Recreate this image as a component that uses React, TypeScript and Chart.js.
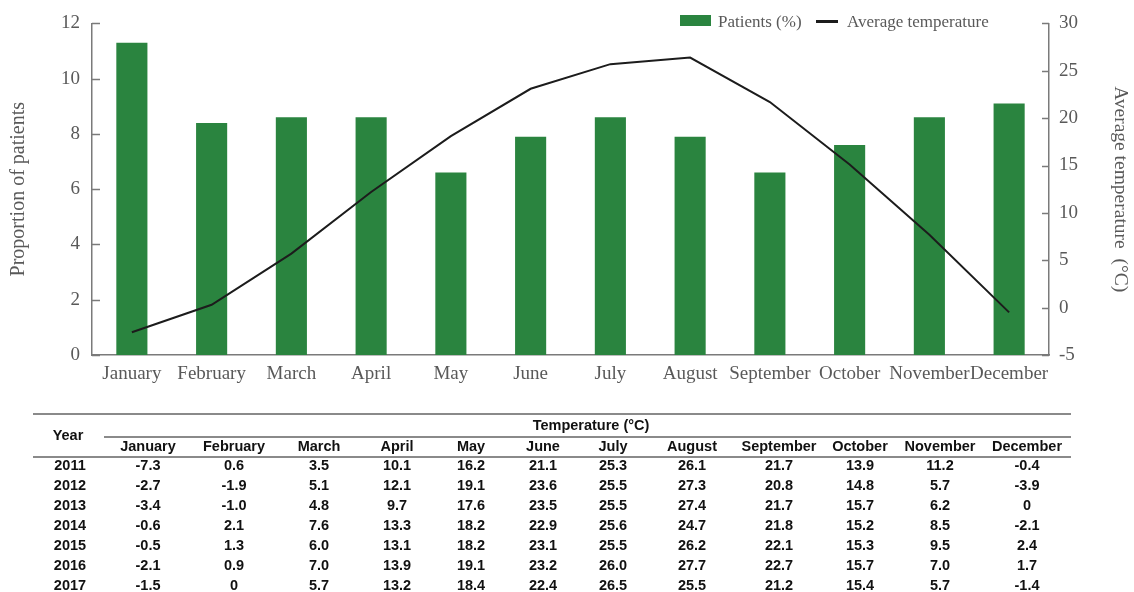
import React, { useEffect, useRef } from 'react';
import { Chart, registerables } from 'chart.js';

Chart.register(...registerables);

const months = ['January', 'February', 'March', 'April', 'May', 'June', 'July', 'August', 'September', 'October', 'November', 'December'];
const patientsPct = [11.3, 8.4, 8.6, 8.6, 6.6, 7.9, 8.6, 7.9, 6.6, 7.6, 8.6, 9.1];
const avgTemp = [-2.6, 0.3, 5.7, 12.2, 18.1, 23.1, 25.7, 26.4, 21.7, 15.1, 7.7, -0.5];

const tableYears = ['2011', '2012', '2013', '2014', '2015', '2016', '2017'];
const temp2011 = ['-7.3', '0.6', '3.5', '10.1', '16.2', '21.1', '25.3', '26.1', '21.7', '13.9', '11.2', '-0.4'];
const temp2012 = ['-2.7', '-1.9', '5.1', '12.1', '19.1', '23.6', '25.5', '27.3', '20.8', '14.8', '5.7', '-3.9'];
const temp2013 = ['-3.4', '-1.0', '4.8', '9.7', '17.6', '23.5', '25.5', '27.4', '21.7', '15.7', '6.2', '0'];
const temp2014 = ['-0.6', '2.1', '7.6', '13.3', '18.2', '22.9', '25.6', '24.7', '21.8', '15.2', '8.5', '-2.1'];
const temp2015 = ['-0.5', '1.3', '6.0', '13.1', '18.2', '23.1', '25.5', '26.2', '22.1', '15.3', '9.5', '2.4'];
const temp2016 = ['-2.1', '0.9', '7.0', '13.9', '19.1', '23.2', '26.0', '27.7', '22.7', '15.7', '7.0', '1.7'];
const temp2017 = ['-1.5', '0', '5.7', '13.2', '18.4', '22.4', '26.5', '25.5', '21.2', '15.4', '5.7', '-1.4'];
const tableRows = [temp2011, temp2012, temp2013, temp2014, temp2015, temp2016, temp2017];

const GREEN = '#2a843f';
const TEXT = '#595959';
const AXIS = '#7a7a7a';
const SERIF = "'Liberation Serif', 'Times New Roman', serif";
const SANS = "'Liberation Sans', Arial, sans-serif";

const colCenters = [148, 234, 319, 397, 471, 543, 613, 692, 779, 860, 940, 1027];
const rowCenters = [465, 485, 505, 525, 545, 565, 585];

const inwardTicks = {
  id: 'inwardTicks',
  afterDatasetsDraw(chart: any) {
    const ctx = chart.ctx;
    const y = chart.scales.y;
    const y1 = chart.scales.y1;
    ctx.save();
    ctx.strokeStyle = AXIS;
    ctx.lineWidth = 1.5;
    y.ticks.forEach((_: any, i: number) => {
      const py = Math.round(y.getPixelForTick(i)) + 0.5;
      ctx.beginPath();
      ctx.moveTo(y.right, py);
      ctx.lineTo(y.right + 8, py);
      ctx.stroke();
    });
    y1.ticks.forEach((_: any, i: number) => {
      const py = Math.round(y1.getPixelForTick(i)) + 0.5;
      ctx.beginPath();
      ctx.moveTo(y1.left - 7, py);
      ctx.lineTo(y1.left, py);
      ctx.stroke();
    });
    ctx.restore();
  },
};

function Cell(props: { cx: number; cy: number; text: string; w?: number }) {
  const w = props.w || 110;
  return (
    <div
      style={{
        position: 'absolute',
        left: props.cx - w / 2,
        top: props.cy - 9,
        width: w,
        height: 18,
        lineHeight: '18px',
        textAlign: 'center',
        whiteSpace: 'nowrap',
      }}
    >
      {props.text}
    </div>
  );
}

function HLine(props: { x1: number; x2: number; y: number }) {
  return (
    <div
      style={{
        position: 'absolute',
        left: props.x1,
        top: props.y - 1,
        width: props.x2 - props.x1,
        height: 2,
        background: '#8a8a8a',
      }}
    />
  );
}

export default function App() {
  const canvasRef = useRef<HTMLCanvasElement | null>(null);

  useEffect(() => {
    if (!canvasRef.current) return;
    const chart = new Chart(canvasRef.current, {
      type: 'bar',
      data: {
        labels: months,
        datasets: [
          {
            type: 'line',
            label: 'Average temperature',
            data: avgTemp,
            yAxisID: 'y1',
            borderColor: '#1c1c1c',
            borderWidth: 2,
            pointRadius: 0,
            tension: 0,
            order: 1,
          } as any,
          {
            type: 'bar',
            label: 'Patients (%)',
            data: patientsPct,
            yAxisID: 'y',
            backgroundColor: GREEN,
            barPercentage: 0.39,
            categoryPercentage: 1,
            order: 2,
          } as any,
        ],
      },
      options: {
        animation: false,
        responsive: false,
        devicePixelRatio: 1,
        layout: { padding: { top: 21, left: 0, right: 0, bottom: 0 } },
        plugins: {
          legend: { display: false },
          tooltip: { enabled: false },
        },
        scales: {
          x: {
            grid: { display: false, drawTicks: false },
            border: { display: true, color: AXIS, width: 1.5 },
            ticks: {
              color: TEXT,
              font: { family: SERIF, size: 19 },
              padding: 8,
              maxRotation: 0,
              autoSkip: false,
            },
            afterFit: (s: any) => {
              s.height = 40;
            },
          },
          y: {
            position: 'left',
            min: 0,
            max: 12,
            ticks: {
              stepSize: 2,
              color: TEXT,
              font: { family: SERIF, size: 19 },
              padding: 12,
            },
            grid: { display: false, drawTicks: false },
            border: { display: true, color: AXIS, width: 1.5 },
            title: {
              display: true,
              text: 'Proportion of patients',
              color: TEXT,
              font: { family: SERIF, size: 20 },
              padding: { top: 7, bottom: 0 },
            },
            afterFit: (s: any) => {
              s.width = 92;
            },
          },
          y1: {
            position: 'right',
            min: -5,
            max: 30,
            ticks: {
              stepSize: 5,
              color: TEXT,
              font: { family: SERIF, size: 19 },
              padding: 10,
            },
            grid: { display: false, drawTicks: false },
            border: { display: true, color: AXIS, width: 1.5 },
            title: {
              display: true,
              text: 'Average temperature  (°C)',
              color: TEXT,
              font: { family: SERIF, size: 19.5 },
              padding: { top: 2, bottom: 0 },
            },
            afterFit: (s: any) => {
              s.width = 85;
            },
          },
        },
      } as any,
      plugins: [inwardTicks],
    });
    return () => chart.destroy();
  }, []);

  return (
    <div style={{ position: 'absolute', left: 0, top: 0, width: 1134, height: 592, background: '#fff', overflow: 'hidden' }}>
      <canvas ref={canvasRef} width={1134} height={395} style={{ position: 'absolute', left: 0, top: 0 }} />
      {/* legend */}
      <div style={{ position: 'absolute', left: 680, top: 15, width: 31, height: 11, background: GREEN }} />
      <div style={{ position: 'absolute', left: 718, top: 11, height: 22, lineHeight: '22px', fontFamily: SERIF, fontSize: 17, color: TEXT, whiteSpace: 'nowrap' }}>
        Patients (%)
      </div>
      <div style={{ position: 'absolute', left: 816, top: 20, width: 22, height: 2.5, background: '#1c1c1c' }} />
      <div style={{ position: 'absolute', left: 847, top: 11, height: 22, lineHeight: '22px', fontFamily: SERIF, fontSize: 17, color: TEXT, whiteSpace: 'nowrap' }}>
        Average temperature
      </div>
      {/* table */}
      <div style={{ position: 'absolute', left: 0, top: 0, width: 1134, height: 592, fontFamily: SANS, fontWeight: 'bold', fontSize: 14.5, color: '#111' }}>
        <HLine x1={33} x2={1071} y={414} />
        <HLine x1={104} x2={1071} y={437} />
        <HLine x1={33} x2={1071} y={457} />
        <Cell cx={68} cy={435} text="Year" />
        <Cell cx={591} cy={425} text="Temperature (°C)" w={200} />
        {months.map((m, i) => (
          <Cell key={m} cx={colCenters[i]} cy={446} text={m} />
        ))}
        {tableYears.map((yr, r) => (
          <React.Fragment key={yr}>
            <Cell cx={70} cy={rowCenters[r]} text={yr} />
            {tableRows[r].map((v, c) => (
              <Cell key={c} cx={colCenters[c]} cy={rowCenters[r]} text={v} />
            ))}
          </React.Fragment>
        ))}
      </div>
    </div>
  );
}
